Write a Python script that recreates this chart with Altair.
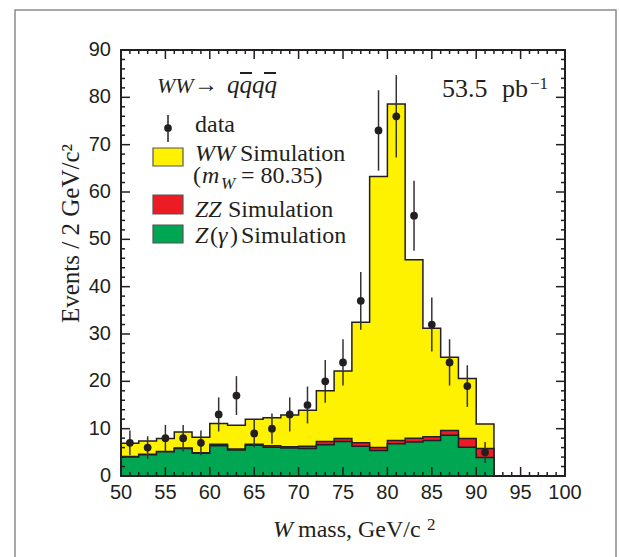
import altair as alt
import pandas as pd

# ---- data ----
bin_lo = [50, 52, 54, 56, 58, 60, 62, 64, 66, 68, 70, 72, 74, 76, 78, 80, 82, 84, 86, 88, 90]
bin_width = 2
zgamma = [4.0, 4.5, 5.1, 5.8, 4.8, 6.4, 5.5, 6.5, 6.1, 5.9, 5.8, 6.6, 7.3, 6.3, 5.4, 6.8, 7.2, 7.5, 8.6, 6.1, 3.9]
zz = [0.1, 0.1, 0.1, 0.1, 0.1, 0.3, 0.2, 0.2, 0.3, 0.3, 0.5, 0.7, 0.6, 0.7, 0.6, 0.7, 0.8, 0.8, 1.0, 1.8, 1.9]
ww = [2.8, 2.8, 2.7, 3.4, 3.3, 4.4, 5.0, 5.3, 5.9, 6.7, 7.6, 10.7, 14.3, 25.5, 57.3, 71.1, 37.7, 22.9, 15.5, 12.7, 5.2]
data_counts = [7, 6, 8, 8, 7, 13, 17, 9, 10, 13, 15, 20, 24, 37, 73, 76, 55, 32, 24, 19, 5]
data_err = [2.6, 2.4, 2.8, 2.8, 2.6, 3.6, 4.1, 3.0, 3.2, 3.6, 3.9, 4.5, 4.9, 6.1, 8.5, 8.7, 7.4, 5.7, 4.9, 4.4, 2.2]

x_major = [50, 55, 60, 65, 70, 75, 80, 85, 90, 95, 100]
y_major = [0, 10, 20, 30, 40, 50, 60, 70, 80, 90]

YELLOW = "#FFF200"
RED = "#ED1C24"
GREEN = "#00A651"
INK = "#231F20"
SERIF = "Liberation Serif"
SANS = "Liberation Sans"

W, H = 444, 426

# stacked tops, as step series ending at the last bin's upper edge
top_green = zgamma
top_red = [g + r for g, r in zip(zgamma, zz)]
top_total = [g + r + w for g, r, w in zip(zgamma, zz, ww)]
edge_last = bin_lo[-1] + bin_width
hist = pd.DataFrame({
    "x": bin_lo + [edge_last],
    "total": top_total + [0],
    "red": top_red + [0],
    "green": top_green + [0],
})

pts = pd.DataFrame({
    "x": [b + bin_width / 2 for b in bin_lo],
    "n": data_counts,
    "lo": [n - e for n, e in zip(data_counts, data_err)],
    "hi": [n + e for n, e in zip(data_counts, data_err)],
})

xs = alt.Scale(domain=[50, 100], nice=False, zero=False)
ys = alt.Scale(domain=[0, 90], nice=False)

base = alt.Chart(hist)


def area(field, color):
    return base.mark_area(interpolate="step-after", color=color, stroke=INK,
                          strokeWidth=1.5, opacity=1).encode(
        x=alt.X("x:Q", scale=xs, axis=None),
        y=alt.Y(f"{field}:Q", scale=ys, axis=None),
    )


hist_yellow = area("total", YELLOW)
hist_red = area("red", RED)
hist_green = area("green", GREEN)

err = alt.Chart(pts).mark_rule(color="#333333", strokeWidth=1.5).encode(
    x=alt.X("x:Q", scale=xs, axis=None),
    y=alt.Y("lo:Q", scale=ys, axis=None),
    y2="hi:Q",
)
dots = alt.Chart(pts).mark_circle(color=INK, size=60, opacity=1).encode(
    x=alt.X("x:Q", scale=xs, axis=None),
    y=alt.Y("n:Q", scale=ys, axis=None),
)

# inward ticks on all four sides
x_minor = [v for v in range(50, 101) if v % 5]
y_minor = [v for v in range(0, 91, 2) if v % 10]
xt_maj = alt.Chart(pd.DataFrame({"v": x_major}))
xt_min = alt.Chart(pd.DataFrame({"v": x_minor}))
yt_maj = alt.Chart(pd.DataFrame({"v": y_major}))
yt_min = alt.Chart(pd.DataFrame({"v": y_minor}))
tick_layers = []
for src, ln in ((xt_maj, 9), (xt_min, 4)):
    for y0, y1 in ((H, H - ln), (0, ln)):
        tick_layers.append(src.mark_rule(color=INK, strokeWidth=1.5).encode(
            x=alt.X("v:Q", scale=xs, axis=None), y=alt.value(y0), y2=alt.value(y1)))
for src, ln in ((yt_maj, 9), (yt_min, 4)):
    for x0, x1 in ((0, ln), (W, W - ln)):
        tick_layers.append(src.mark_rule(color=INK, strokeWidth=1.5).encode(
            y=alt.Y("v:Q", scale=ys, axis=None), x=alt.value(x0), x2=alt.value(x1)))

# tick labels through the scales
x_labels = xt_maj.mark_text(font=SANS, fontSize=20, color=INK, align="center",
                            baseline="top").encode(
    x=alt.X("v:Q", scale=xs, axis=None), y=alt.value(H + 7), text="v:Q")
y_labels = yt_maj.mark_text(font=SANS, fontSize=20, color=INK, align="right",
                            baseline="middle").encode(
    y=alt.Y("v:Q", scale=ys, axis=None), x=alt.value(-10), text="v:Q")

one = pd.DataFrame({"k": [0]})


def txt(s, x, y, size=24, italic=False, align="left", angle=0, font=SERIF):
    kw = dict(align=align, baseline="alphabetic", font=font, fontSize=size, color=INK)
    if italic:
        kw["fontStyle"] = "italic"
    if angle:
        kw["angle"] = angle
    return alt.Chart(pd.DataFrame({"t": [s]})).mark_text(**kw).encode(
        x=alt.value(x), y=alt.value(y), text="t:N")


def box(x0, x1, y0, y1, fill, stroke=INK, sw=1.5):
    kw = dict(stroke=stroke, strokeWidth=sw)
    if fill == "none":
        kw["fillOpacity"] = 0
        kw["fill"] = "white"
    else:
        kw["fill"] = fill
    return alt.Chart(one).mark_rect(**kw).encode(
        x=alt.value(x0), x2=alt.value(x1), y=alt.value(y0), y2=alt.value(y1))


def hline(x0, x1, y, sw=2):
    return alt.Chart(one).mark_rule(color=INK, strokeWidth=sw).encode(
        x=alt.value(x0), x2=alt.value(x1), y=alt.value(y))


annot = [
    # process label
    txt("WW", 36, 43, 22, italic=True),
    txt("→", 73, 42, 24),
    txt("qqqq", 106, 43, 25, italic=True),
    hline(119, 131, 23),
    hline(143, 155, 23),
    # luminosity
    txt("53.5", 321, 47, 26),
    txt("pb", 381, 47, 26),
    txt("−1", 409, 39, 17),
    # legend
    alt.Chart(one).mark_rule(color=INK, strokeWidth=1.5).encode(
        x=alt.value(47), y=alt.value(65), y2=alt.value(92)),
    alt.Chart(one).mark_circle(color=INK, size=60, opacity=1).encode(
        x=alt.value(47), y=alt.value(78)),
    txt("data", 74, 82),
    box(32, 62, 98, 116, YELLOW, stroke="#555555", sw=1.2),
    txt("WW", 74, 111, italic=True),
    txt("Simulation", 119, 111),
    txt("(", 72, 133),
    txt("m", 81, 133, italic=True),
    txt("W", 100, 139, 17, italic=True),
    txt("= 80.35)", 120, 133),
    box(32, 62, 145, 164, RED, stroke="#555555", sw=1.2),
    txt("ZZ", 74, 167, italic=True),
    txt("Simulation", 107, 167),
    box(32, 62, 175, 193, GREEN, stroke="#555555", sw=1.2),
    txt("Z", 74, 193, italic=True),
    txt("(", 89, 193),
    txt("γ", 97, 193, italic=True),
    txt(")", 109, 193),
    txt("Simulation", 120, 193),
    # axis titles
    txt("W", 152, 487, 24, italic=True),
    txt("mass, GeV/c", 177, 487, 24),
    txt("2", 306, 480, 17),
    txt("Events / 2 GeV/c²", -42, 273, 25, angle=270),
]

frame = box(0, W, 0, H, "none", stroke=INK, sw=2)
outer = box(-106, 495, -40, 560, "none", stroke="#8A8A8A", sw=1.5)

chart = alt.layer(
    hist_yellow, hist_red, hist_green, err, dots, *tick_layers, frame, outer,
    x_labels, y_labels, *annot
).properties(
    width=W, height=H,
    padding={"left": 121, "top": 50, "right": 54, "bottom": 81},
    autosize=alt.AutoSizeParams(type="none"),
    background="white",
).configure_view(strokeWidth=0)

chart.save("out.html", embed_options={"renderer": "svg", "actions": False})
